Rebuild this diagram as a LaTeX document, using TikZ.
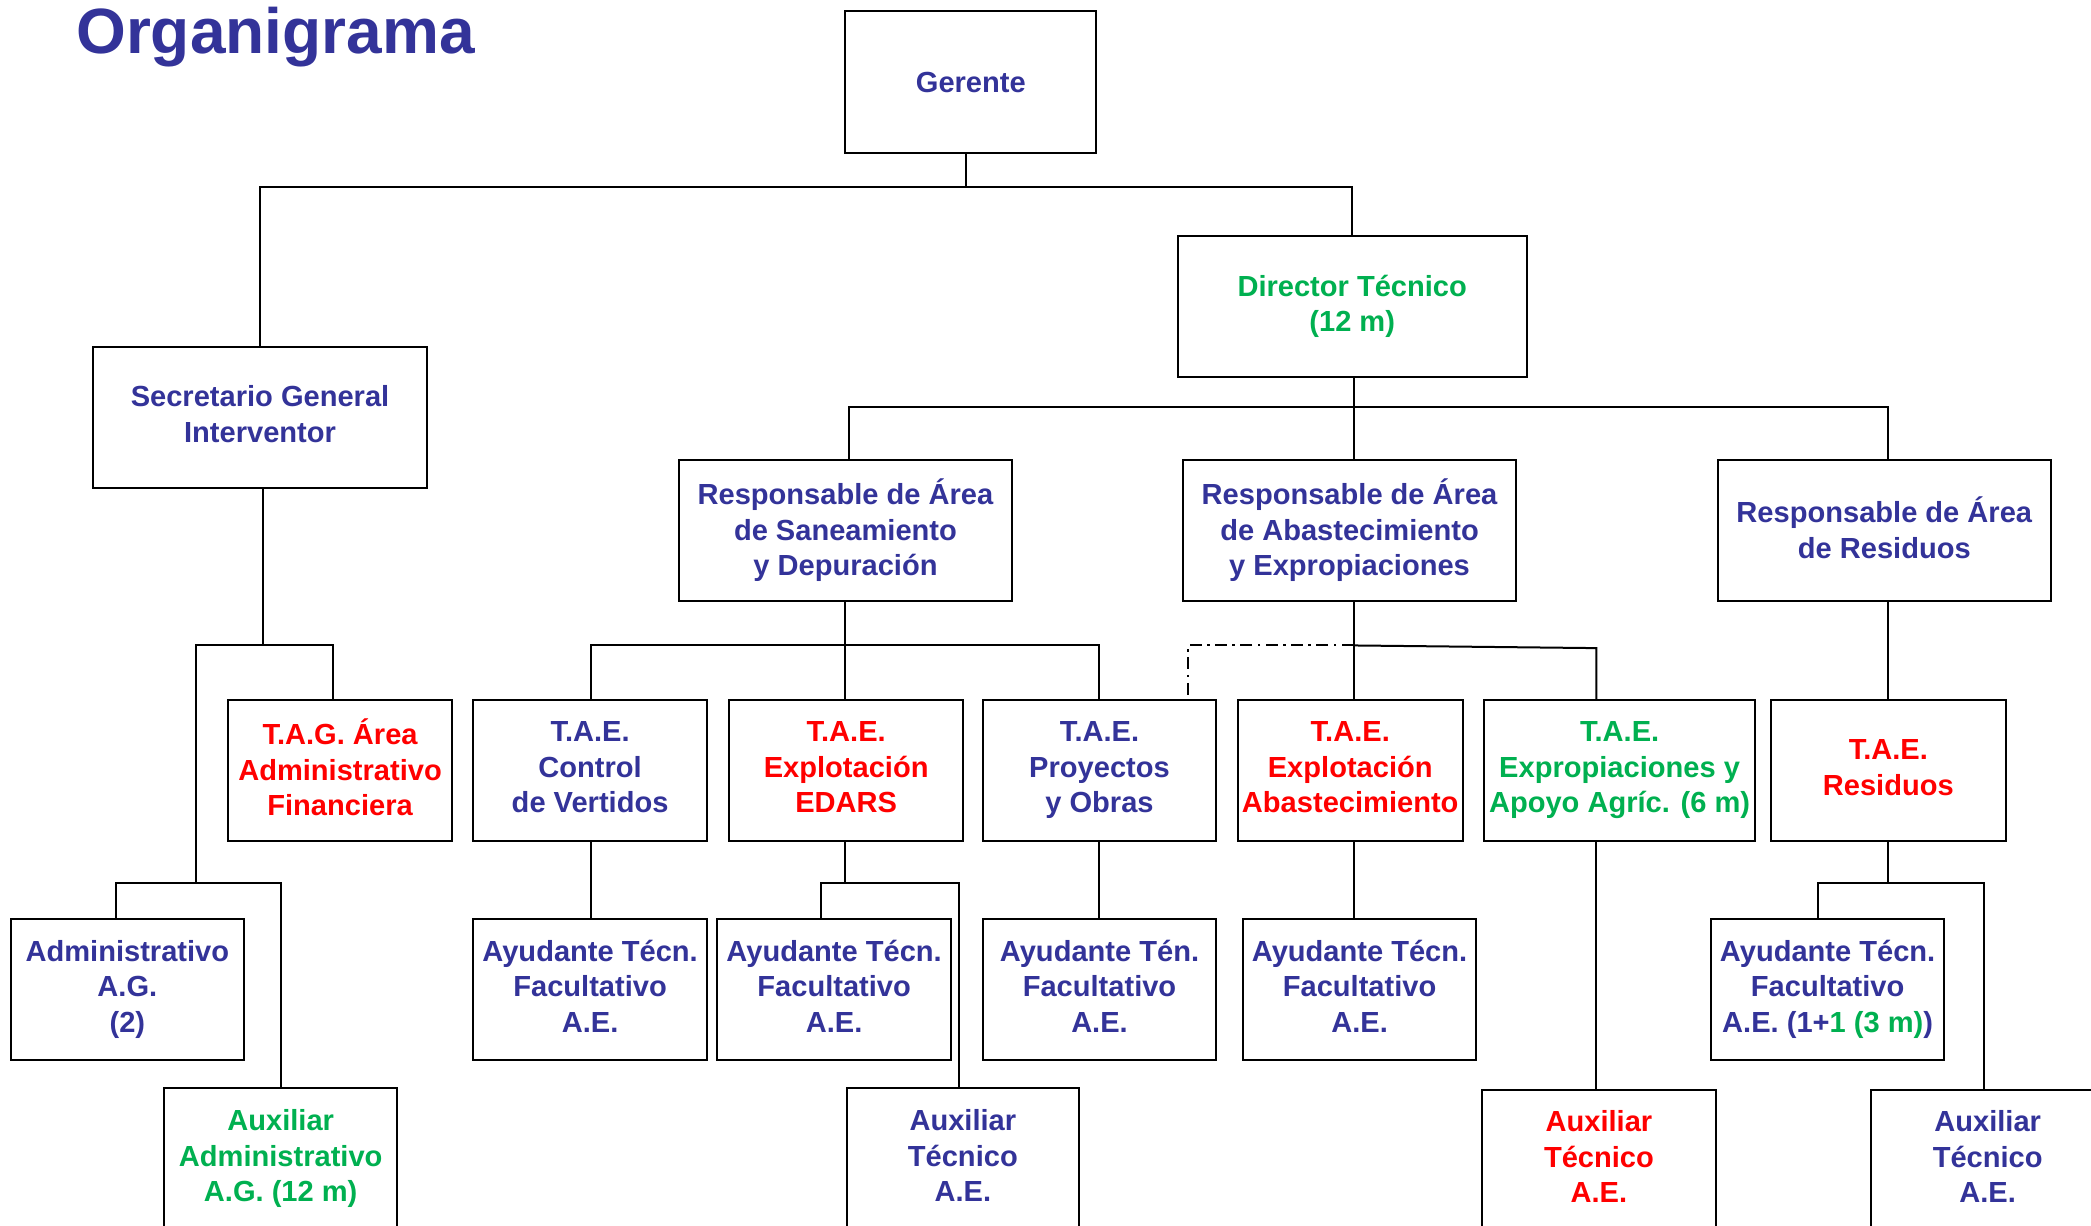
\documentclass[tikz,border=0pt]{standalone}
\usepackage{fontspec}
\setmainfont{Liberation Sans}
\definecolor{oblue}{RGB}{51,51,153}
\definecolor{ored}{RGB}{255,0,0}
\definecolor{ogreen}{RGB}{0,176,80}
\begin{document}
\begin{tikzpicture}[x=1pt,y=-1pt,
  box/.style={draw=black, line width=1.5pt, fill=white, inner sep=0pt, align=center,
    font=\fontsize{21.8}{26.6}\selectfont\bfseries, minimum height=106pt,
    execute at begin node={\rule{0pt}{20.5pt}},
    execute at end node={\rule[-5pt]{0pt}{5pt}}},
  bl/.style={text=oblue}, rd/.style={text=ored}, gr/.style={text=ogreen},
  conn/.style={line width=1.5pt},
  dd/.style={line width=1.5pt, dash pattern=on 9pt off 4pt on 2pt off 4pt}]
\useasboundingbox (0,0) rectangle (1568,919);
\clip (0,0) rectangle (1568,919);
\fill[white] (0,0) rectangle (1568,919);

\node[anchor=base west, inner sep=0pt, text=oblue, font=\fontsize{48}{50}\selectfont\bfseries] (title) at (57,40) {Organigrama};

% level 1-2
\node[box,bl,minimum width=188pt,minimum height=107pt] (g) at (728,61.5) {Gerente};
\node[box,gr,minimum width=262pt] (dt) at (1014,230) {Director Técnico\\(12 m)};
\node[box,bl,minimum width=250pt] (sg) at (195,313) {Secretario General\\Interventor};
% level 3
\node[box,bl,minimum width=250pt] (rs) at (634,398) {Responsable de Área\\de Saneamiento\\y Depuración};
\node[box,bl,minimum width=250pt] (ra) at (1012,398) {Responsable de Área\\de Abastecimiento\\y Expropiaciones};
\node[box,bl,minimum width=250pt] (rr) at (1413,398) {Responsable de Área\\de Residuos};
% level 4
\node[box,rd,minimum width=168pt] (tag) at (255,578) {T.A.G. Área\\Administrativo\\Financiera};
\node[box,bl,minimum width=175pt] (tcv) at (442.5,578) {T.A.E.\\Control\\de Vertidos};
\node[box,rd,minimum width=175pt] (ted) at (634.5,578) {T.A.E.\\Explotación\\EDARS};
\node[box,bl,minimum width=175pt] (tpo) at (824.5,578) {T.A.E.\\Proyectos\\y Obras};
\node[box,rd,minimum width=169pt] (tea) at (1012.5,578) {T.A.E.\\Explotación\\Abastecimiento};
\node[box,gr,minimum width=203pt] (tex) at (1214.5,578) {T.A.E.\\Expropiaciones y\\Apoyo Agríc. (6 m)};
\node[box,rd,minimum width=176pt] (tre) at (1416,578) {T.A.E.\\Residuos};
% level 5
\node[box,bl,minimum width=175pt] (adm) at (95.5,742) {Administrativo\\A.G.\\(2)};
\node[box,bl,minimum width=175pt] (acv) at (442.5,742) {Ayudante Técn.\\Facultativo\\A.E.};
\node[box,bl,minimum width=175pt] (aed) at (625.5,742) {Ayudante Técn.\\Facultativo\\A.E.};
\node[box,bl,minimum width=175pt] (apo) at (824.5,742) {Ayudante Tén.\\Facultativo\\A.E.};
\node[box,bl,minimum width=175pt] (aea) at (1019.5,742) {Ayudante Técn.\\Facultativo\\A.E.};
\node[box,bl,minimum width=175pt] (are) at (1370.5,742) {Ayudante Técn.\\Facultativo\\A.E. (1+{\color{ogreen}1 (3 m)})};
% level 6
\node[box,gr,minimum width=175pt] (aux1) at (210.5,869) {Auxiliar\\Administrativo\\A.G. (12 m)};
\node[box,bl,minimum width=174pt] (aux2) at (722,869) {Auxiliar\\Técnico\\A.E.};
\node[box,rd,minimum width=176pt] (aux3) at (1199,870) {Auxiliar\\Técnico\\A.E.};
\node[box,bl,minimum width=175pt] (aux4) at (1490.5,870) {Auxiliar\\Técnico\\A.E.};

% junction coordinates
\coordinate (j0) at (724,140);
\coordinate (j1) at (1015,305);
\coordinate (j1l) at (637,305);
\coordinate (j1r) at (1416,305);
\coordinate (j2) at (197,484);
\coordinate (j2l) at (147,484);
\coordinate (j2r) at (250,484);
\coordinate (j3) at (147,662);
\coordinate (j3l) at (87,662);
\coordinate (j3r) at (211,662);
\coordinate (j4) at (634,484);
\coordinate (j4l) at (443,484);
\coordinate (j4r) at (824,484);
\coordinate (j5) at (634,662);
\coordinate (j5l) at (616,662);
\coordinate (j5r) at (719,662);
\coordinate (j6) at (1015,484);
\coordinate (j6r) at (1197,486);
\coordinate (j6l) at (891,484);
\coordinate (j7) at (1416,662);
\coordinate (j7l) at (1363,662);
\coordinate (j7r) at (1488,662);

% connectors
\draw[conn] (g.south -| j0) -- (j0);
\draw[conn] (sg.north) |- (j0) -| (dt.north);
\draw[conn] (dt.south -| j1) -- (j1);
\draw[conn] (rs.north -| j1l) -- (j1l) -- (j1r) -- (rr.north -| j1r);
\draw[conn] (j1) -- (ra.north -| j1);
% secretario branch
\draw[conn] (sg.south -| j2) -- (j2);
\draw[conn] (tag.north -| j2r) -- (j2r) -- (j2l) -- (j3);
\draw[conn] (adm.north -| j3l) -- (j3l) -- (j3r) -- (aux1.north -| j3r);
% saneamiento branch
\draw[conn] (rs.south -| j4) -- (j4);
\draw[conn] (tcv.north -| j4l) -- (j4l) -- (j4r) -- (tpo.north -| j4r);
\draw[conn] (j4) -- (ted.north -| j4);
\draw[conn] (tcv.south -| j4l) -- (acv.north -| j4l);
\draw[conn] (ted.south -| j5) -- (j5);
\draw[conn] (aed.north -| j5l) -- (j5l) -- (j5r) -- (aux2.north -| j5r);
\draw[conn] (tpo.south -| j4r) -- (apo.north -| j4r);
% abastecimiento branch
\draw[conn] (ra.south -| j6) -- (tea.north -| j6);
\draw[conn] (j6) -- (j6r) -- (tex.north -| j6r);
\draw[dd] (j6) -- (j6l) -- (tpo.north -| j6l);
\draw[conn] (tea.south -| j6) -- (aea.north -| j6);
\draw[conn] (tex.south -| j6r) -- (aux3.north -| j6r);
% residuos branch
\draw[conn] (rr.south -| j7) -- (tre.north -| j7);
\draw[conn] (tre.south -| j7) -- (j7);
\draw[conn] (are.north -| j7l) -- (j7l) -- (j7r) -- (aux4.north -| j7r);
\end{tikzpicture}
\end{document}
